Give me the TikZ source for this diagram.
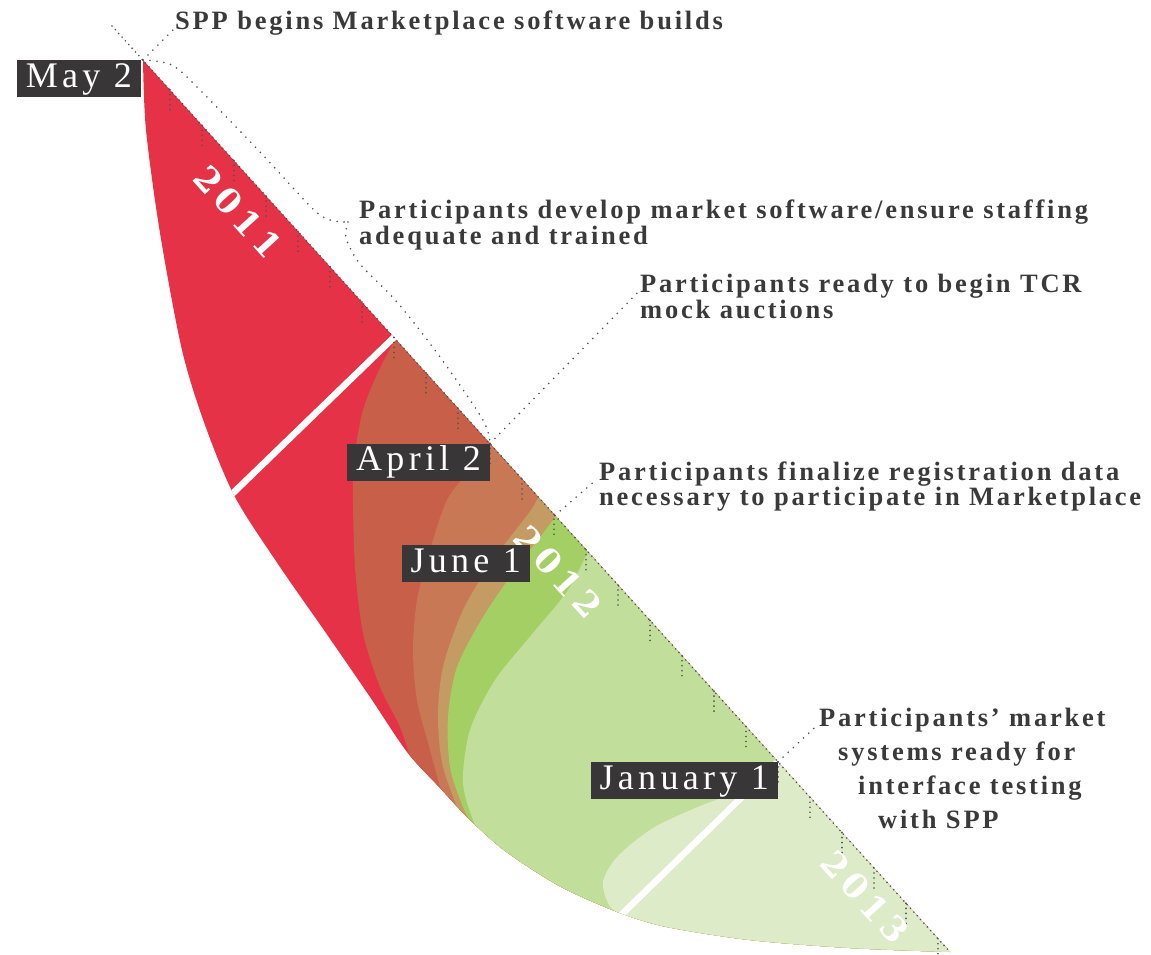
\documentclass[tikz,border=0pt]{standalone}
\usepackage{fontspec}
\setmainfont{Liberation Serif}
\newfontfamily\notefont{Liberation Serif}[LetterSpace=10.5]
\newfontfamily\datefont{Liberation Serif}[LetterSpace=12]
\newfontfamily\yearfont{DejaVu Serif Bold}[LetterSpace=16]
\usetikzlibrary{calc}
\definecolor{sppred}{HTML}{E53246}
\definecolor{darksalmon}{HTML}{C85F49}
\definecolor{salmon}{HTML}{C87855}
\definecolor{tan}{HTML}{C39B63}
\definecolor{leafgreen}{HTML}{A3CF64}
\definecolor{lightgreen}{HTML}{C1DE9A}
\definecolor{palegreen}{HTML}{DDEBC8}
\definecolor{boxgray}{HTML}{383637}
\definecolor{notegray}{HTML}{3A3A3A}
\definecolor{dotgray}{HTML}{505050}

\tikzset{
  note/.style={font=\notefont\bfseries\fontsize{26.5}{23}\selectfont, text=notegray, inner sep=0pt, align=left},
  datebox/.style={fill=boxgray, text=white, font=\datefont\fontsize{36}{36}\selectfont,
    inner xsep=9pt, inner ysep=0pt, minimum height=37pt, text height=24.5pt, text depth=7.5pt},
  year/.style={text=white, font=\yearfont\fontsize{34}{34}\selectfont, rotate=-47.9, inner sep=0pt},
  dots/.style={draw=dotgray, line width=1.8pt, line cap=round, dash pattern=on 0pt off 7pt},
  finedots/.style={dots, dash pattern=on 0pt off 5pt},
  divider/.style={draw=white, line width=6.5pt},
}

\begin{document}
\begin{tikzpicture}[x=1pt, y=-1pt]
  \useasboundingbox (0,0) rectangle (1151,955);

  % key dates on the diagonal
  \coordinate (may2) at (143,60);
  \coordinate (tip) at (950,952);
  \coordinate (newyear12) at (394,337.4);
  \coordinate (apr2) at (490,443.5);
  \coordinate (jun1) at (555,515.4);
  \coordinate (jan1) at (778,761.9);
  \coordinate (diagtop) at (112,26);

  % colour bands
  \begin{scope}
    \clip plot[smooth] coordinates {(143,60) (146,130) (160,233) (182,350) (205,425) (235,497)
      (280,567) (326,633) (370,697) (407,752) (440,788) (467,817) (500,847) (533,870) (567,890)
      (620,913) (667,927) (750,940) (850,948) (950,952)} -- cycle;
    \fill[sppred] (0,0) rectangle (1151,955);
    \fill[darksalmon] plot[smooth] coordinates {(400,332) (380,368) (363,410) (354,460) (353,500)
      (355,567) (363,633) (380,687) (400,727) (415,772)} -- ++(0,300) -| (1100,300) -- cycle;
    \fill[salmon] plot[smooth] coordinates {(497,438) (470,470) (447,500) (430,550) (417,600)
      (413,650) (417,700) (430,750) (445,805)} -- ++(0,300) -| (1100,300) -- cycle;
    \fill[tan] plot[smooth] coordinates {(540,488) (533,507) (493,560) (463,610) (443,667)
      (438,717) (443,767) (463,822)} -- ++(0,300) -| (1100,300) -- cycle;
    \fill[leafgreen] plot[smooth] coordinates {(559,508) (553,520) (517,567) (483,617) (457,667)
      (448,717) (450,767) (463,807) (482,845)} -- ++(0,300) -| (1100,300) -- cycle;
    \fill[lightgreen] plot[smooth] coordinates {(592,543) (568,590) (533,633) (495,680) (470,730)
      (463,783) (475,825) (493,858)} -- ++(0,300) -| (1100,300) -- cycle;
    \fill[palegreen] plot[smooth] coordinates {(782,756) (745,788) (700,806) (653,828) (617,857)
      (603,882) (609,905) (622,918) (625,935)} -- ++(0,300) -| (1100,700) -- cycle;
    \draw[divider] ($(newyear12)+(3,-3)$) -- (229,497);
    \draw[divider] ($(jan1)+(3,-3)$) -- (615,921);
  \end{scope}

  % time axis with monthly ticks
  \draw[finedots] (diagtop) -- (tip);
  \foreach \k in {0,...,24} {
    \pgfmathsetmacro\t{(27+32*\k)/807}
    \draw[finedots] ($(may2)!\t!(tip)$) -- ++(0,20);
  }

  % years
  \node[year] (y2011) at (238,212) {2011};
  \node[year] (y2012) at (558,572) {2012};
  \node[year] (y2013) at (865,897) {2013};

  % notes (anchored on the baseline of their last line)
  \node[note, anchor=base west] (spp) at (175,30) {SPP begins Marketplace software builds};
  \node[note, anchor=base west] (develop) at (359,244)
    {Participants develop market software/ensure staffing\\adequate and trained};
  \node[note, anchor=base west] (tcr) at (640,318) {Participants ready to begin TCR\\mock auctions};
  \node[note, anchor=base west, font=\notefont\bfseries\fontsize{26.5}{25}\selectfont] (register) at (599,505)
    {Participants finalize registration data\\necessary to participate in Marketplace};
  \node[note, anchor=base west, font=\notefont\bfseries\fontsize{26.5}{34}\selectfont] (systems) at (819,828)
    {Participants’ market\\\hspace*{19pt}systems ready for\\\hspace*{39pt}interface testing\\\hspace*{59pt}with SPP};

  % connectors
  \coordinate (knee) at (348,222);
  \draw[dots] plot[smooth] coordinates {(may2) (172,65) (200,90) (260,152) (312,208) (330,220) (knee)};
  \draw[dots] plot[smooth] coordinates {(knee) (346,238) (360,264) (397,302) (440,357) (483,420) (apr2)};
  \draw[dots] (may2) -- ([xshift=-2pt]spp.base west);
  \draw[dots] (apr2) -- ([shift={(-2,18)}]tcr.north west);
  \draw[dots] (jun1) -- ([shift={(-2,18)}]register.north west);
  \draw[dots] (jan1) -- ([shift={(-2,18)}]systems.north west);

  % date labels
  \node[datebox, anchor=north east] (lmay2) at (141,60) {May 2};
  \node[datebox, anchor=north east] (lapr2) at (apr2) {April 2};
  \node[datebox, anchor=north east] (ljun1) at (530,545) {June 1};
  \node[datebox, anchor=north east] (ljan1) at (jan1) {January 1};
\end{tikzpicture}
\end{document}
